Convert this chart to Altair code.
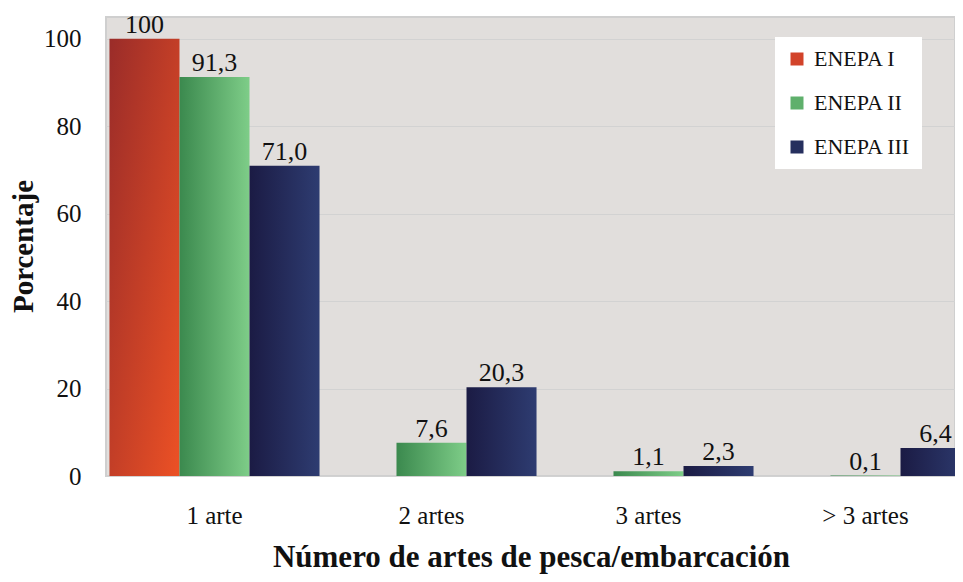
import altair as alt
import pandas as pd

categories = ["1 arte", "2 artes", "3 artes", "> 3 artes"]
series = ["ENEPA I", "ENEPA II", "ENEPA III"]
enepa1 = [100, None, None, None]
enepa2 = [91.3, 7.6, 1.1, 0.1]
enepa3 = [71.0, 20.3, 2.3, 6.4]
labels1 = ["100", "", "", ""]
labels2 = ["91,3", "7,6", "1,1", "0,1"]
labels3 = ["71,0", "20,3", "2,3", "6,4"]
y_ticks = [0, 20, 40, 60, 80, 100]
legend_colors = ["#d2432a", "#5fb06c", "#262f5e"]

rows = []
for s, vals, labs in zip(series, [enepa1, enepa2, enepa3], [labels1, labels2, labels3]):
    for c, v, l in zip(categories, vals, labs):
        if v is not None:
            rows.append({"cat": c, "series": s, "value": v, "label": l})
df = pd.DataFrame(rows)

FONT = "Liberation Serif"

gradients = {
    "ENEPA I": alt.Gradient(gradient="linear", x1=0, y1=0, x2=1, y2=1,
                            stops=[alt.GradientStop(color="#9a2c29", offset=0),
                                   alt.GradientStop(color="#ec5125", offset=1)]),
    "ENEPA II": alt.Gradient(gradient="linear", x1=0, y1=0, x2=1, y2=0,
                             stops=[alt.GradientStop(color="#3b894e", offset=0),
                                    alt.GradientStop(color="#7ecd88", offset=1)]),
    "ENEPA III": alt.Gradient(gradient="linear", x1=0, y1=0, x2=1, y2=0,
                              stops=[alt.GradientStop(color="#1b1b44", offset=0),
                                     alt.GradientStop(color="#2e3c71", offset=1)]),
}

x_enc = alt.X(
    "cat:N", sort=categories,
    scale=alt.Scale(domain=categories, range=[0, 868], paddingInner=0.032, paddingOuter=0.016),
    axis=alt.Axis(labelAngle=0, ticks=False, domain=False, grid=False,
                  labelFont=FONT, labelFontSize=25, labelColor="#111111", labelPadding=27,
                  title="Número de artes de pesca/embarcación", titleFont=FONT,
                  titleFontSize=31, titleFontWeight="bold", titleColor="#111111",
                  titleX=425, titleY=90, titleBaseline="alphabetic"),
)
xo_enc = alt.XOffset("series:N", scale=alt.Scale(domain=series, paddingInner=0, paddingOuter=0))
y_enc = alt.Y(
    "value:Q",
    scale=alt.Scale(domain=[0, 105], nice=False),
    axis=alt.Axis(values=y_ticks, grid=True, gridColor="#d2d2d2", ticks=False, domain=False,
                  labelFont=FONT, labelFontSize=25, labelColor="#111111", labelPadding=25,
                  title="Porcentaje", titleFont=FONT, titleFontSize=29, titleFontWeight="bold",
                  titleColor="#111111", titleX=-83, titleY=229, titleAngle=270,
                  titleBaseline="middle", titleAlign="center"),
)

base = alt.Chart(df)
layers = []
for s in series:
    layers.append(
        base.transform_filter(alt.datum.series == s)
        .mark_bar(color=gradients[s])
        .encode(x=x_enc, xOffset=xo_enc, y=y_enc)
    )

text = base.mark_text(font=FONT, fontSize=26, baseline="alphabetic", dy=-6, color="#111111").encode(
    x=x_enc, xOffset=xo_enc, y=y_enc, text="label:N"
)

legend_layer = base.mark_square(size=0, opacity=0).encode(
    x=x_enc, xOffset=xo_enc, y=y_enc,
    color=alt.Color("series:N", scale=alt.Scale(domain=series, range=legend_colors),
                    legend=alt.Legend(title=None, orient="none", legendX=669, legendY=20,
                                      fillColor="white", padding=11, symbolType="square",
                                      symbolSize=169, symbolOpacity=1, symbolStrokeWidth=0,
                                      labelFont=FONT, labelFontSize=22, labelColor="#111111",
                                      rowPadding=22, labelOffset=6)),
)

chart = alt.layer(*layers, text, legend_layer).properties(
    width=849, height=459, autosize="none",
    padding={"left": 98, "top": 9, "right": 0, "bottom": 98},
).configure_view(fill="#e1dedc", stroke="#cfcfcf", strokeWidth=2)

chart.save("out.html", embed_options={"renderer": "svg", "actions": False})
